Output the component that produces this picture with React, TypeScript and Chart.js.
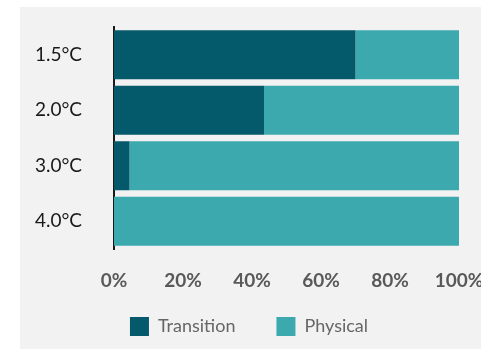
import React, { useEffect, useRef } from "react";
import { Chart, registerables } from "chart.js";

Chart.register(...registerables);

const categories = ["1.5°C", "2.0°C", "3.0°C", "4.0°C"];
const transition = [70, 43.5, 4.5, 0];
const physical = [30, 56.5, 95.5, 100];
const xTicks = [0, 20, 40, 60, 80, 100];

const FONT = "Lato, 'Noto Sans', sans-serif";

const bgPlugin = {
  id: "bgPanel",
  beforeDraw(chart: any) {
    const { ctx, width, height } = chart;
    ctx.save();
    ctx.fillStyle = "#ffffff";
    ctx.fillRect(0, 0, width, height);
    ctx.fillStyle = "#f2f2f2";
    ctx.fillRect(20, 7, width - 20, height - 7);
    ctx.restore();
  },
};

// pull the legend up and re-centre it under the plot
const legendShift = {
  id: "legendShift",
  afterLayout(chart: any) {
    const lg = chart.legend;
    if (lg) {
      lg.top -= 18;
      lg.left += 19;
    }
  },
};

export default function App() {
  const ref = useRef<HTMLCanvasElement | null>(null);
  useEffect(() => {
    if (!ref.current) return;
    const chart = new Chart(ref.current, {
      type: "bar",
      data: {
        labels: categories,
        datasets: [
          {
            label: "Transition",
            data: transition,
            backgroundColor: "#045a6a",
            barPercentage: 0.883,
            categoryPercentage: 1,
          },
          {
            label: "Physical",
            data: physical,
            backgroundColor: "#3ba9ad",
            barPercentage: 0.883,
            categoryPercentage: 1,
          },
        ],
      },
      options: {
        indexAxis: "y",
        responsive: false,
        animation: false,
        layout: { padding: { left: 20, right: 22, top: 27, bottom: 0 } },
        plugins: {
          tooltip: { enabled: false },
          legend: {
            position: "bottom",
            maxHeight: 55,
            labels: {
              boxWidth: 19,
              boxHeight: 19,
              padding: 41,
              color: "#666666",
              font: { family: FONT, size: 18 },
            },
          },
        },
        scales: {
          x: {
            stacked: true,
            min: 0,
            max: 100,
            afterBuildTicks: (s: any) => {
              s.ticks = xTicks.map((v) => ({ value: v }));
            },
            afterFit: (s: any) => {
              s.height = 45;
              s.paddingLeft = 0;
              s.paddingRight = 0;
            },
            grid: { display: false, drawTicks: false },
            border: { display: false },
            ticks: {
              padding: 20,
              color: "#595959",
              font: { family: FONT, size: 19, weight: "bold" },
              callback: (v: any) => v + "%",
              maxRotation: 0,
              autoSkip: false,
            },
          },
          y: {
            stacked: true,
            afterFit: (s: any) => {
              s.width = 94;
              s.paddingTop = 0;
              s.paddingBottom = 0;
            },
            grid: { display: false, drawTicks: false },
            border: { display: true, color: "#1a1a1a", width: 2 },
            ticks: {
              padding: 32,
              color: "#1a1a1a",
              font: { family: FONT, size: 19 },
            },
          },
        },
      },
      plugins: [bgPlugin, legendShift],
    } as any);
    return () => chart.destroy();
  }, []);
  return (
    <div style={{ position: "fixed", left: 0, top: 0, width: 481, height: 349 }}>
      <canvas ref={ref} width={481} height={349} />
    </div>
  );
}
